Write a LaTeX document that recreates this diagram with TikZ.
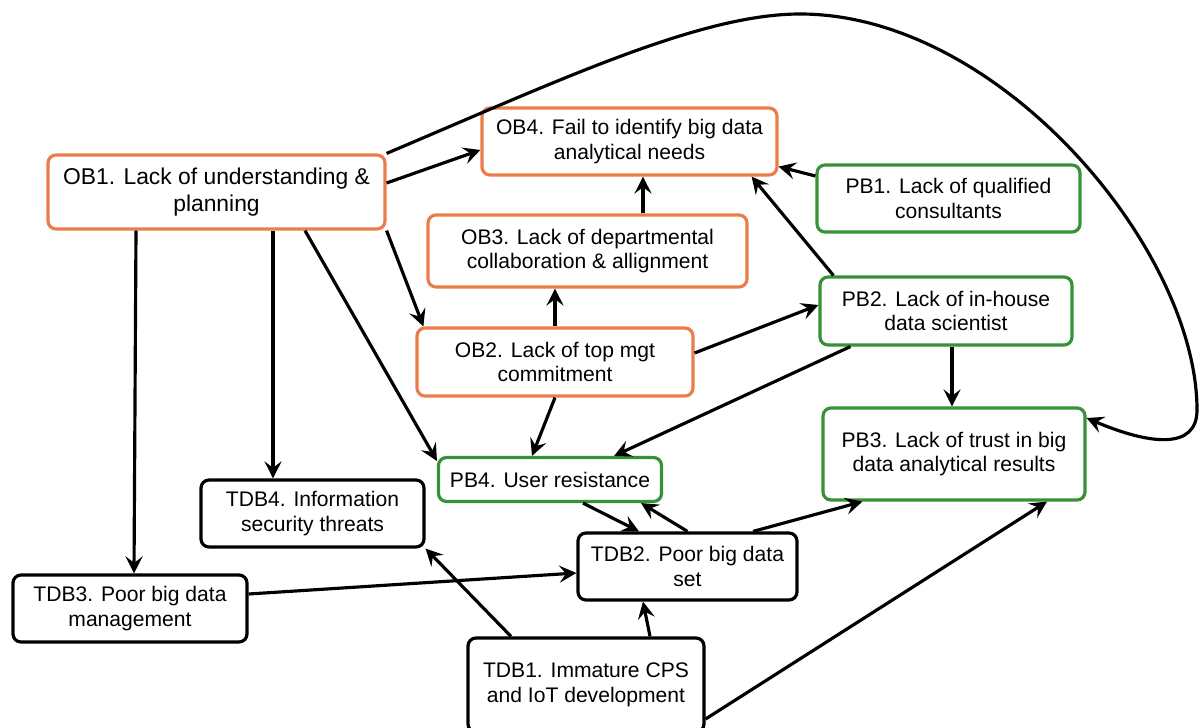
\documentclass[tikz,border=0pt]{standalone}
\usepackage{fontspec}
\setmainfont{Liberation Sans}
\usepackage{tikz}
\usetikzlibrary{arrows.meta}
\definecolor{obcol}{RGB}{235,125,75}
\definecolor{pbcol}{RGB}{55,145,55}

\begin{document}
\begin{tikzpicture}[
  barrier/.style={draw, rounded corners=1.6mm, line width=1.8pt, align=center, inner sep=0pt,
    font=\fontsize{12}{14}\selectfont, fill=white},
  obox/.style={barrier, draw=obcol},
  pbox/.style={barrier, draw=pbcol},
  tbox/.style={barrier, draw=black},
  link/.style={line width=1.8pt, -{Stealth[length=3.4mm, width=3.4mm, inset=1.3mm]}}]
\useasboundingbox (0,0) rectangle (24.02,14.54); % page size

% organisational barriers
\node[obox, minimum width=6.74cm, minimum height=1.48cm, font=\fontsize{13}{15}\selectfont] (ob1) at (4.33,10.70) {OB1. Lack of understanding \&\\planning};
\node[obox, minimum width=5.90cm, minimum height=1.34cm] (ob4) at (12.59,11.71) {OB4. Fail to identify big data\\analytical needs};
\node[obox, minimum width=6.38cm, minimum height=1.44cm] (ob3) at (11.75,9.52) {OB3. Lack of departmental\\collaboration \& allignment};
\node[obox, minimum width=5.52cm, minimum height=1.36cm] (ob2) at (11.10,7.30) {OB2. Lack of top mgt\\commitment};

% people barriers
\node[pbox, minimum width=5.26cm, minimum height=1.34cm] (pb1) at (18.97,10.57) {PB1. Lack of qualified\\consultants};
\node[pbox, minimum width=5.04cm, minimum height=1.36cm] (pb2) at (18.92,8.32) {PB2. Lack of in-house\\data scientist};
\node[pbox, minimum width=5.24cm, minimum height=1.84cm] (pb3) at (19.08,5.46) {PB3. Lack of trust in big\\data analytical results};
\node[pbox, minimum width=4.46cm, minimum height=0.88cm] (pb4) at (11.00,4.95) {PB4. User resistance};

% technology and data barriers
\node[tbox, minimum width=4.46cm, minimum height=1.34cm] (tdb4) at (6.25,4.27) {TDB4. Information\\security threats};
\node[tbox, minimum width=4.68cm, minimum height=1.34cm] (tdb3) at (2.60,2.37) {TDB3. Poor big data\\management};
\node[tbox, minimum width=4.38cm, minimum height=1.34cm] (tdb2) at (13.75,3.21) {TDB2. Poor big data\\set};
\node[tbox, minimum width=4.72cm, minimum height=1.88cm] (tdb1) at (11.72,0.84) {TDB1. Immature CPS\\and IoT development};

% links from OB1
\draw[link] ([yshift=0.18cm]ob1.east) -- ([yshift=-0.17cm]ob4.west);
\draw[link] (ob1.south east) -- ([xshift=0.16cm]ob2.north west);
\draw[link] ([xshift=1.77cm]ob1.south) -- ([yshift=-0.1cm]pb4.north west);
\draw[link] ([xshift=1.13cm]ob1.south) coordinate (a1) -- (a1 |- tdb4.north);
\draw[link] ([xshift=-1.61cm]ob1.south) -- ([xshift=0.08cm]tdb3.north);
\draw[link] (ob1.north east) .. controls (11.2,12.94) and (14.0,14.26) .. (16.0,14.26)
  .. controls (20.0,14.26) and (23.94,9.54) .. (23.94,6.34)
  .. controls (23.94,5.54) and (23.0,5.64) .. ([yshift=0.72cm]pb3.east); % long loop

% links among OB
\draw[link] (ob2.north) -- (ob2.north |- ob3.south);
\draw[link] ([xshift=1.11cm]ob3.north) coordinate (a2) -- (a2 |- ob4.south);
\draw[link] ([yshift=0.18cm]ob2.east) -- ([yshift=0.12cm]pb2.west);
\draw[link] (ob2.south) -- ([xshift=-0.36cm]pb4.north);

% links from PB
\draw[link] ([yshift=0.45cm]pb1.west) -- ([yshift=0.2cm]ob4.south east);
\draw[link] ([xshift=0.3cm]pb2.north west) -- ([xshift=-0.54cm]ob4.south east);
\draw[link] ([xshift=0.12cm]pb2.south) coordinate (a3) -- (a3 |- pb3.north);
\draw[link] ([xshift=0.64cm]pb2.south west) -- ([xshift=-0.98cm]pb4.north east);
\draw[link] ([xshift=0.66cm]pb4.south) -- ([xshift=-0.97cm]tdb2.north);

% links from TDB
\draw[link] (tdb2.north) -- ([xshift=-0.44cm]pb4.south east);
\draw[link] ([xshift=1.31cm]tdb2.north) -- ([xshift=0.82cm]pb3.south west);
\draw[link] ([yshift=-0.68cm]tdb1.east) -- ([xshift=1.86cm]pb3.south);
\draw[link] ([xshift=1.28cm]tdb1.north) -- ([xshift=-0.89cm]tdb2.south);
\draw[link] ([xshift=-1.5cm]tdb1.north) -- (tdb4.south east);
\draw[link] ([yshift=0.29cm]tdb3.east) -- ([yshift=-0.13cm]tdb2.west);

\end{tikzpicture}
\end{document}
